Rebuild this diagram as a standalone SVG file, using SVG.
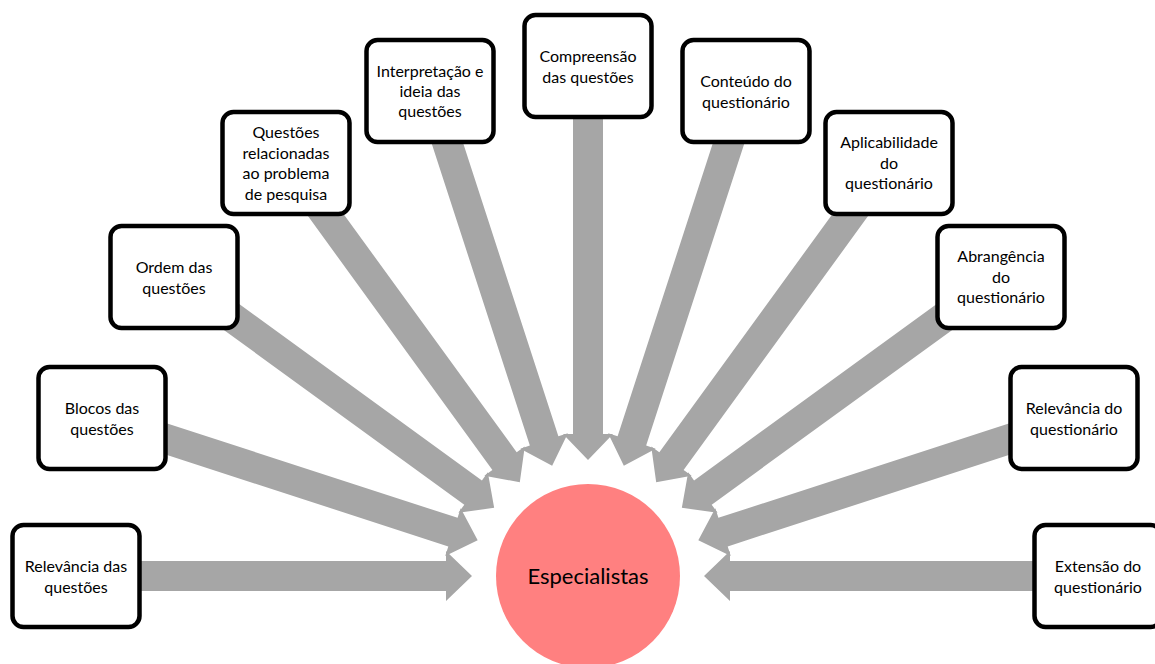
<svg xmlns="http://www.w3.org/2000/svg" width="1155" height="664" viewBox="0 0 1155 664">
  <defs>
    <!-- block arrow in a local frame: +x points outward, tip 116px from the hub -->
    <polygon id="arrow" points="116,0 142,-25 142,-15 470,-15 470,15 142,15 142,25"/>
    <style>
      .arrow { fill: #A6A6A6; }
      .box rect { fill: #FFFFFF; stroke: #000000; stroke-width: 4.5; }
      .box text { font-family: Lato, "Open Sans", "Liberation Sans", sans-serif; font-size: 16px; fill: #000000; text-anchor: middle; }
      .hub circle { fill: #FF8080; }
      .hub text { font-family: Lato, "Open Sans", "Liberation Sans", sans-serif; font-size: 22px; fill: #000000; text-anchor: middle; }
    </style>
  </defs>

  <rect width="1155" height="664" fill="#FFFFFF"/>

  <!-- connectors: eleven block arrows fanning into the hub, 18 degrees apart -->
  <g id="connectors" class="arrow" transform="translate(588,576)">
    <use href="#arrow" transform="rotate(-180)"/>
    <use href="#arrow" transform="rotate(-162)"/>
    <use href="#arrow" transform="rotate(-144)"/>
    <use href="#arrow" transform="rotate(-126)"/>
    <use href="#arrow" transform="rotate(-108)"/>
    <use href="#arrow" transform="rotate(-90)"/>
    <use href="#arrow" transform="rotate(-72)"/>
    <use href="#arrow" transform="rotate(-54)"/>
    <use href="#arrow" transform="rotate(-36)"/>
    <use href="#arrow" transform="rotate(-18)"/>
    <use href="#arrow" transform="rotate(0)"/>
  </g>

  <!-- hub -->
  <g id="especialistas" class="hub">
    <circle cx="588" cy="576" r="92"/>
    <text x="588" y="584">Especialistas</text>
  </g>

  <!-- nodes, centred on a ring of radius 511 around the hub -->
  <g id="relevancia-questoes" class="box">
    <rect x="12.5" y="525" width="127" height="102" rx="11"/>
    <text x="76" y="572">Relevância das</text>
    <text x="76" y="592.5">questões</text>
  </g>

  <g id="blocos-questoes" class="box">
    <rect x="38.5" y="367" width="127" height="102" rx="11"/>
    <text x="102" y="414">Blocos das</text>
    <text x="102" y="434.5">questões</text>
  </g>

  <g id="ordem-questoes" class="box">
    <rect x="110.5" y="226" width="127" height="102" rx="11"/>
    <text x="174" y="273">Ordem das</text>
    <text x="174" y="293.5">questões</text>
  </g>

  <g id="questoes-relacionadas" class="box">
    <rect x="222.5" y="112" width="127" height="102" rx="11"/>
    <text x="286" y="138">Questões</text>
    <text x="286" y="158.5">relacionadas</text>
    <text x="286" y="179">ao problema</text>
    <text x="286" y="199.5">de pesquisa</text>
  </g>

  <g id="interpretacao" class="box">
    <rect x="366.5" y="40" width="127" height="102" rx="11"/>
    <text x="430" y="77">Interpretação e</text>
    <text x="430" y="97">ideia das</text>
    <text x="430" y="117">questões</text>
  </g>

  <g id="compreensao" class="box">
    <rect x="524.5" y="15" width="127" height="102" rx="11"/>
    <text x="588" y="62">Compreensão</text>
    <text x="588" y="82.5">das questões</text>
  </g>

  <g id="conteudo" class="box">
    <rect x="682.5" y="40" width="127" height="102" rx="11"/>
    <text x="746" y="87">Conteúdo do</text>
    <text x="746" y="107.5">questionário</text>
  </g>

  <g id="aplicabilidade" class="box">
    <rect x="825.5" y="112" width="127" height="102" rx="11"/>
    <text x="889" y="148">Aplicabilidade</text>
    <text x="889" y="168.5">do</text>
    <text x="889" y="189">questionário</text>
  </g>

  <g id="abrangencia" class="box">
    <rect x="937.5" y="226" width="127" height="102" rx="11"/>
    <text x="1001" y="262">Abrangência</text>
    <text x="1001" y="282.5">do</text>
    <text x="1001" y="303">questionário</text>
  </g>

  <g id="relevancia-questionario" class="box">
    <rect x="1010.5" y="367" width="127" height="102" rx="11"/>
    <text x="1074" y="414">Relevância do</text>
    <text x="1074" y="434.5">questionário</text>
  </g>

  <g id="extensao" class="box">
    <rect x="1034.5" y="525" width="127" height="102" rx="11"/>
    <text x="1098" y="572">Extensão do</text>
    <text x="1098" y="592.5">questionário</text>
  </g>
</svg>
